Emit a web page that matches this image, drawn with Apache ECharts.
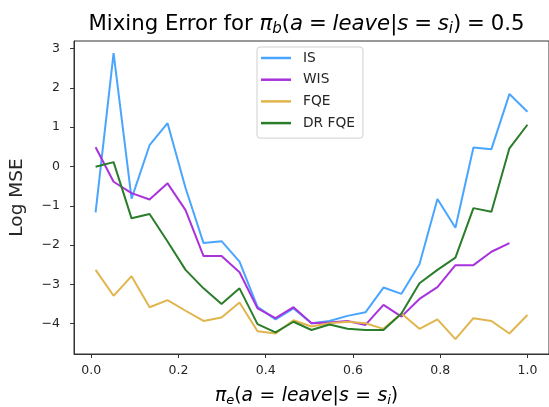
<!DOCTYPE html>
<html>
<head>
<meta charset="utf-8">
<script src="https://cdn.jsdelivr.net/npm/echarts@6/dist/echarts.min.js"></script>
<style>
html,body{margin:0;padding:0;background:#fff;}
#chart{width:549px;height:407px;}
</style>
</head>
<body>
<div id="chart"></div>
<script>
// ---- data ----
var xValues = [0.01, 0.05125, 0.0925, 0.13375, 0.175, 0.21625, 0.2575, 0.29875, 0.34, 0.38125,
  0.4225, 0.46375, 0.505, 0.54625, 0.5875, 0.62875, 0.67, 0.71125, 0.7525, 0.79375,
  0.835, 0.87625, 0.9175, 0.95875, 1.0];
var isValues = [-1.17, 2.88, -0.82, 0.54, 1.10, -0.55, -1.95, -1.90, -2.42, -3.57,
  -3.89, -3.61, -3.99, -3.93, -3.80, -3.71, -3.08, -3.24, -2.49, -0.83,
  -1.56, 0.48, 0.44, 1.84, 1.39];
var wisValues = [0.49, -0.39, -0.68, -0.84, -0.43, -1.11, -2.28, -2.28, -2.69, -3.61,
  -3.86, -3.58, -3.99, -3.97, -3.93, -4.03, -3.52, -3.82, -3.37, -3.07,
  -2.51, -2.51, -2.17, -1.95];
var fqeValues = [-2.63, -3.29, -2.79, -3.58, -3.40, -3.67, -3.93, -3.84, -3.46, -4.19,
  -4.25, -3.91, -4.07, -3.99, -3.95, -3.99, -4.13, -3.74, -4.13, -3.89,
  -4.39, -3.86, -3.93, -4.25, -3.78];
var drValues = [-0.01, 0.11, -1.32, -1.21, -1.91, -2.63, -3.10, -3.50, -3.10, -4.01,
  -4.22, -3.95, -4.16, -4.02, -4.13, -4.16, -4.16, -3.74, -2.97, -2.63,
  -2.32, -1.06, -1.15, 0.46, 1.06];
var seriesNames = ['IS', 'WIS', 'FQE', 'DR FQE'];
var xTicks = [0.0, 0.2, 0.4, 0.6, 0.8, 1.0];
var yTicks = [-4, -3, -2, -1, 0, 1, 2, 3];

// ---- styling ----
var colors = ['#4aa5ff', '#a833dc', '#e1b54d', '#2a7d2a'];
var allValues = [isValues, wisValues, fqeValues, drValues];
var txt = '#262626';
var spine = '#333333';
var FONT = 'DejaVu Sans';

function pairs(ys) {
  var out = [];
  for (var i = 0; i < ys.length; i++) out.push([xValues[i], ys[i]]);
  return out;
}

var series = seriesNames.map(function (n, k) {
  return {
    name: n, type: 'line', data: pairs(allValues[k]),
    symbol: 'none', showSymbol: false,
    lineStyle: { color: colors[k], width: 2 },
    itemStyle: { color: colors[k] },
    emphasis: { disabled: true },
    animation: false
  };
});

function mathRich(fs, lh, subFs, eqPad) {
  return {
    n: { fontFamily: FONT, fontSize: fs, color: txt, lineHeight: lh, verticalAlign: 'middle' },
    e: { fontFamily: FONT, fontSize: fs, color: txt, lineHeight: lh, verticalAlign: 'middle', padding: [0, eqPad, 0, eqPad] },
    i: { fontFamily: FONT, fontStyle: 'italic', fontSize: fs, color: txt, lineHeight: lh, verticalAlign: 'middle' },
    s: { fontFamily: FONT, fontStyle: 'italic', fontSize: subFs, color: txt, lineHeight: subFs + 1, verticalAlign: 'bottom' }
  };
}

var chart = echarts.init(document.getElementById('chart'), null, { renderer: 'canvas' });
chart.setOption({
  animation: false,
  backgroundColor: '#ffffff',
  color: colors,
  grid: { left: 67, top: 41, width: 484, height: 313, show: true, borderColor: spine, borderWidth: 1, backgroundColor: 'transparent' },
  xAxis: {
    type: 'value', min: -0.0395, max: 1.0495,
    splitLine: { show: false },
    axisLine: { show: true, onZero: false, lineStyle: { color: spine, width: 1 } },
    axisTick: { show: true, inside: false, length: 4, lineStyle: { color: spine }, customValues: xTicks },
    axisLabel: { show: true, margin: 10, color: txt, fontFamily: FONT, fontSize: 12.5, customValues: xTicks,
      formatter: function (v) { return v.toFixed(1); } }
  },
  yAxis: {
    type: 'value', min: -4.77, max: 3.19,
    name: 'Log MSE', nameLocation: 'middle', nameRotate: 90, nameGap: 47,
    nameTextStyle: { color: txt, fontFamily: FONT, fontSize: 18.5 },
    splitLine: { show: false },
    axisLine: { show: true, onZero: false, lineStyle: { color: spine, width: 1 } },
    axisTick: { show: true, inside: false, length: 4, lineStyle: { color: spine }, customValues: yTicks },
    axisLabel: { show: true, margin: 14, color: txt, fontFamily: FONT, fontSize: 12.5, customValues: yTicks,
      formatter: function (v) { return (v < 0 ? '\u2212' + Math.abs(v) : String(v)); } }
  },
  legend: {
    data: seriesNames.map(function (n) { return { name: n, icon: 'rect' }; }),
    orient: 'vertical', left: 257, top: 47,
    itemWidth: 30, itemHeight: 2.5, itemGap: 7.7,
    padding: [4, 8, 8, 4],
    backgroundColor: 'rgba(255,255,255,0.8)',
    borderColor: '#d0d0d0', borderWidth: 1, borderRadius: 3,
    textStyle: { color: txt, fontFamily: FONT, fontSize: 13.75, lineHeight: 14, height: 14, padding: [0, 0, 0, 7] },
    selectedMode: false
  },
  graphic: [
    {
      type: 'text', x: 306.5, y: 11, z: 10,
      style: {
        text: '{n|Mixing Error for }{i|\u03c0}{s|b}{n|(}{i|a}{e|=}{i|leave}{n||}{i|s}{e|=}{i|s}{s|i}{n|)}{e|=}{n|0.5}',
        rich: mathRich(21.25, 26, 15, 5.8),
        align: 'center', verticalAlign: 'top'
      }
    },
    {
      type: 'text', x: 306.5, y: 385, z: 10,
      style: {
        text: '{i|\u03c0}{s|e}{n|(}{i|a}{e|=}{i|leave}{n||}{i|s}{e|=}{i|s}{s|i}{n|)}',
        rich: mathRich(18.75, 22, 13, 6.5),
        align: 'center', verticalAlign: 'top'
      }
    }
  ],
  series: series
});
</script>
</body>
</html>
